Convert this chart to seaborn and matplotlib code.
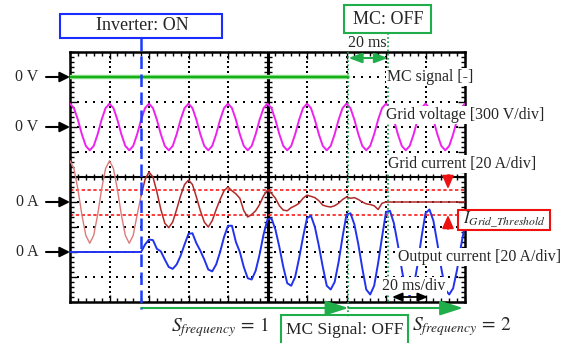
import numpy as np
import pandas as pd
import matplotlib
matplotlib.use("Agg")
import matplotlib.pyplot as plt
import seaborn as sns
from matplotlib.patches import Rectangle
from matplotlib.ticker import MultipleLocator

# ---------------- data (2 ms sampling) ----------------
time_ms = np.arange(0, 201, 2)

grid_voltage_V = [
    280, 227, 87, -87, -227, -280, -227, -87, 87, 227,
    280, 227, 87, -87, -227, -280, -227, -87, 87, 227,
    280, 227, 87, -87, -227, -280, -227, -87, 87, 227,
    280, 227, 87, -87, -227, -280, -227, -87, 87, 227,
    280, 227, 87, -87, -227, -280, -227, -87, 87, 227,
    280, 227, 87, -87, -227, -280, -227, -87, 87, 227,
    280, 227, 87, -87, -227, -280, -227, -87, 87, 227,
    280, 227, 87, -87, -227, -280, -227, -87, 87, 227,
    280, 227, 87, -87, -227, -280, -227, -87, 87, 227,
    280, 227, 87, -87, -227, -280, -227, -87, 87, 227,
    280,
]

grid_current_A = [
    33, 26.7, 10.2, -10.2, -26.7, -33, -26.7, -10.2, 10.2, 26.7,
    33, 26.7, 10.2, -10.2, -26.7, -33, -26.7, -10.2,
    5, 18, 24, 20, 8, -6, -17, -20.5, -16, -6,
    5, 14, 17.5, 14, 4, -7, -16, -20, -15, -6,
    2, 9, 12, 9, 6.5, 3, -7, -12, -10, -7,
    -2, 5, 9.5, 7, 3, -3, -6.5, -7, -4.5, -3,
    -1, 3, 5.5, 4.5, 3.5, 1, -2.5, -3.5, -4, -3,
    -1, 2, 4, 3, 3.5, 2, 0, -1.5, -2, -3,
    -6, -1, 0,
    0, 0, 0, 0, 0, 0, 0, 0, 0, 0,
    0, 0, 0, 0, 0, 0, 0, 0, 0, 0,
]

output_current_A = [
    0, 0, 0, 0, 0, 0, 0, 0, 0, 0,
    0, 0, 0, 0, 0, 0, 0, 0,
    0, 6, 10, 9.5, 2.5, 0.5, -6, -12, -13.5, -10,
    -3, 6, 14.5, 15, 7, 1, -6, -14, -15.5, -10,
    0, 12, 21, 21, 8, 0, -12, -21, -22, -15,
    -2, 14, 26, 27, 18, 4, -12, -25, -27, -20,
    -5, 12, 27, 29, 20, 5, -12, -27, -30, -24,
    -8, 12, 30, 31, 22, 6, -13, -30, -34, -27,
    -9, 12, 32, 33, 23, 6, -14, -31, -35, -28,
    -10, 12, 31, 34, 25, 7, -13, -30, -34, -29,
    -14, 5, 22,
]

mc_time_ms = [0, 141]
mc_signal = [0, 0]

inverter_on_ms = 36
mc_signal_off_ms = 141
mc_off_ms = 161
threshold_A = 10

# channel offsets (div) and scales (unit/div)
ch_offset = {"mc": 4, "v": 2, "ig": -1, "io": -3}
v_scale, i_scale = 300, 20

df = pd.DataFrame({
    "t": time_ms,
    "v": ch_offset["v"] + np.array(grid_voltage_V) / v_scale,
    "ig": ch_offset["ig"] + np.array(grid_current_A) / i_scale,
    "io": ch_offset["io"] + np.array(output_current_A) / i_scale,
})
df_mc = pd.DataFrame({"t": mc_time_ms, "y": np.array(mc_signal) + ch_offset["mc"]})

# ---------------- figure ----------------
sns.set_theme(style="white")
plt.rcParams["font.family"] = ["Liberation Serif", "DejaVu Serif"]
plt.rcParams["mathtext.fontset"] = "stix"

W, H = 575, 343
fig = plt.figure(figsize=(5.75, 3.43), dpi=100)
fig.patch.set_facecolor("white")
ax = fig.add_axes([70 / W, 1 - 302 / H, 395 / W, 250 / H])
ax.set_xlim(0, 200)
ax.set_ylim(-5, 5)
ax.set_facecolor("white")


def tx(px):  # reference pixel x -> ms
    return (px - 70) / 1.975


def yd(py):  # reference pixel y -> div
    return (177 - py) / 25


# grid dots
gx = [20, 40, 60, 80, 120, 140, 160, 180]
gy = [-4, -3, -2, -1, 1, 2, 3, 4]
ys = np.arange(-5, 5.01, 0.2)
xs = np.arange(0, 200.1, 4)
for x in gx:
    ax.plot(np.full_like(ys, x), ys, ls="none", marker="s", ms=1.6, mew=0, color="black", zorder=1)
for y in gy:
    ax.plot(xs, np.full_like(xs, y), ls="none", marker="s", ms=1.6, mew=0, color="black", zorder=1)
ax.axhline(0, color="black", lw=1.5, zorder=1)
ax.axvline(100, color="black", lw=2.2, zorder=1)
ax.plot(xs, np.zeros_like(xs), ls="none", marker="|", ms=5, mew=1, color="black", zorder=1)
ax.plot(np.full_like(ys, 100), ys, ls="none", marker="_", ms=6, mew=1, color="black", zorder=1)

ax.xaxis.set_major_locator(MultipleLocator(20))
ax.xaxis.set_minor_locator(MultipleLocator(4))
ax.yaxis.set_major_locator(MultipleLocator(1))
ax.yaxis.set_minor_locator(MultipleLocator(0.2))
ax.tick_params(which="both", direction="in", top=True, right=True, bottom=True, left=True,
               labelbottom=False, labelleft=False, length=3, width=1, color="black")
ax.tick_params(which="major", length=5)
for s in ax.spines.values():
    s.set_color("black")
    s.set_linewidth(1.8)

# threshold lines
for sgn in (1, -1):
    ax.axhline(ch_offset["ig"] + sgn * threshold_A / i_scale, color="#ff1a1a", lw=1.2,
               ls=(0, (2, 1.5)), zorder=2)

# traces
sns.lineplot(data=df_mc, x="t", y="y", color="#8fe08f", lw=3.2, ax=ax, zorder=3)
sns.lineplot(data=df_mc, x="t", y="y", color="#16b016", lw=1.6, ax=ax, zorder=3)
sns.lineplot(data=df, x="t", y="v", color="#ee22ee", lw=1.4, ax=ax, zorder=3, sort=False, estimator=None)
pre = df[df.t <= inverter_on_ms]
post = df[df.t >= inverter_on_ms]
sns.lineplot(data=pre, x="t", y="ig", color="#dd7b7b", lw=1.0, ax=ax, zorder=3, sort=False, estimator=None)
sns.lineplot(data=post, x="t", y="ig", color="#b02a2a", lw=1.1, ax=ax, zorder=3, sort=False, estimator=None)
sns.lineplot(data=df, x="t", y="io", color="#2233ee", lw=1.4, ax=ax, zorder=3, sort=False, estimator=None)
ax.set_xlabel("")
ax.set_ylabel("")

# ---------------- annotations ----------------
FS = 11.4
white = dict(boxstyle="square,pad=0.08", fc="white", ec="none")

# zero-level markers
for lvl, lab in [(ch_offset["mc"], "0 V"), (ch_offset["v"], "0 V"),
                 (ch_offset["ig"], "0 A"), (ch_offset["io"], "0 A")]:
    ax.annotate("", xy=(0, lvl), xytext=(tx(46), lvl), annotation_clip=False,
                arrowprops=dict(arrowstyle="-|>,head_length=0.6,head_width=0.3",
                                color="black", lw=1.5, mutation_scale=10, shrinkA=0, shrinkB=0))
    ax.text(tx(27), lvl, lab, ha="center", va="center", fontsize=FS, clip_on=False)

# inverter ON
ax.add_patch(Rectangle((tx(60), yd(38)), tx(222) - tx(60), yd(14) - yd(38), fill=False,
                       ec="#1a2cff", lw=1.5, clip_on=False, zorder=6))
ax.text(tx(142), yd(26), "Inverter: ON", ha="center", va="center", fontsize=13, clip_on=False)
ax.plot([inverter_on_ms] * 2, [yd(38), yd(309)], color="#1a3cff", lw=1.8,
        ls=(0, (5, 2.2)), clip_on=False, zorder=5)

# MC OFF
green = "#1fae4a"
ax.add_patch(Rectangle((tx(344), yd(33)), tx(431) - tx(344), yd(5) - yd(33), fill=False,
                       ec=green, lw=1.5, clip_on=False, zorder=6))
ax.text(tx(388), yd(19), "MC: OFF", ha="center", va="center", fontsize=13, clip_on=False)
ax.plot([mc_signal_off_ms] * 2, [yd(52), yd(317)], color="#119944", lw=1.2,
        ls=(0, (1, 1.5)), clip_on=False, zorder=5)
ax.plot([mc_off_ms] * 2, [yd(33), yd(302)], color="#119944", lw=1.2,
        ls=(0, (1, 1.5)), clip_on=False, zorder=5)
ax.text(tx(367), yd(43), "20 ms", ha="center", va="center", fontsize=FS, clip_on=False)
ax.annotate("", xy=(mc_off_ms, yd(58)), xytext=(mc_signal_off_ms, yd(58)), annotation_clip=False,
            arrowprops=dict(arrowstyle="<|-|>,head_length=0.8,head_width=0.3", color=green,
                            lw=1.5, mutation_scale=10, shrinkA=0, shrinkB=0))

# bottom sequence arrows
ax.annotate("", xy=(mc_signal_off_ms, yd(308)), xytext=(inverter_on_ms, yd(308)), annotation_clip=False,
            arrowprops=dict(arrowstyle="-|>,head_length=1.4,head_width=0.45", color=green,
                            lw=1.5, mutation_scale=10, shrinkA=0, shrinkB=0))
ax.annotate("", xy=(tx(463), yd(308)), xytext=(mc_signal_off_ms, yd(308)), annotation_clip=False,
            arrowprops=dict(arrowstyle="-|>,head_length=1.4,head_width=0.45", color=green,
                            lw=1.5, mutation_scale=10, shrinkA=0, shrinkB=0))
ax.add_patch(Rectangle((tx(281), yd(346)), tx(408) - tx(281), yd(315) - yd(346), fill=False,
                       ec=green, lw=1.5, clip_on=False, zorder=6))
ax.text(tx(345), yd(330), "MC Signal: OFF", ha="center", va="center", fontsize=12.5, clip_on=False)
ax.text(tx(220), yd(327), r"$S_{frequency}\,=\,1$", ha="center", va="center", fontsize=14, clip_on=False)
ax.text(tx(462), yd(327), r"$S_{frequency}\,=\,2$", ha="center", va="center", fontsize=14, clip_on=False)

# trace labels
ax.text(tx(387), yd(77), "MC signal [-]", ha="left", va="center", fontsize=FS, bbox=white,
        clip_on=False, zorder=10)
ax.text(tx(386), yd(115), "Grid voltage [300 V/div]", ha="left", va="center", fontsize=FS, bbox=white,
        clip_on=False, zorder=10)
ax.text(tx(388), yd(164), "Grid current [20 A/div]", ha="left", va="center", fontsize=FS, bbox=white,
        clip_on=False, zorder=10)
ax.text(tx(398), yd(257), "Output current [20 A/div]", ha="left", va="center", fontsize=FS, bbox=white,
        clip_on=False, zorder=10)
ax.text(tx(382), yd(286), "20 ms/div", ha="left", va="center", fontsize=FS, bbox=white,
        clip_on=False, zorder=10)
ax.annotate("", xy=(tx(428), yd(297)), xytext=(tx(392), yd(297)), annotation_clip=False,
            arrowprops=dict(arrowstyle="<|-|>,head_length=0.6,head_width=0.25", color="black",
                            lw=1.3, mutation_scale=10, shrinkA=0, shrinkB=0), zorder=11)

# threshold arrows and label
red = "#ee1111"
ax.annotate("", xy=(tx(448), yd(189)), xytext=(tx(448), yd(175)), annotation_clip=False,
            arrowprops=dict(arrowstyle="-|>,head_length=0.8,head_width=0.35", color=red,
                            lw=1.3, mutation_scale=10, shrinkA=0, shrinkB=0), zorder=11)
ax.annotate("", xy=(tx(448), yd(215)), xytext=(tx(448), yd(229)), annotation_clip=False,
            arrowprops=dict(arrowstyle="-|>,head_length=0.8,head_width=0.35", color=red,
                            lw=1.3, mutation_scale=10, shrinkA=0, shrinkB=0), zorder=11)
ax.add_patch(Rectangle((tx(458), yd(230)), tx(550) - tx(458), yd(210) - yd(230), fc="white",
                       ec=red, lw=1.5, clip_on=False, zorder=12))
ax.text(tx(504), yd(220), r"$I_{Grid\_Threshold}$", ha="center", va="center", fontsize=12,
        clip_on=False, zorder=13)

fig.savefig("out.png", dpi=100, facecolor="white")
